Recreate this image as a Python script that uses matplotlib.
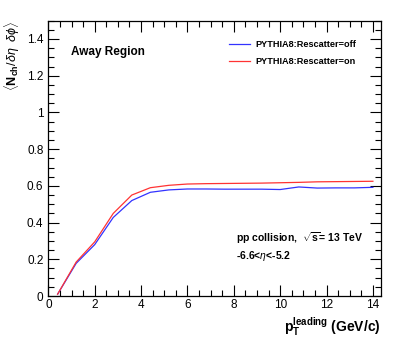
import matplotlib
matplotlib.use("Agg")
import matplotlib.pyplot as plt
from matplotlib.ticker import MultipleLocator, FixedLocator, FixedFormatter

plt.rcParams["font.family"] = ["Liberation Sans", "DejaVu Sans"]
plt.rcParams["mathtext.fontset"] = "custom"
plt.rcParams["mathtext.rm"] = "Liberation Sans"
plt.rcParams["mathtext.it"] = "Liberation Sans:italic"
plt.rcParams["mathtext.bf"] = "Liberation Sans:bold"

# leading pT bin centres (GeV/c)
pt = [0.4, 1.2, 2.0, 2.8, 3.6, 4.4, 5.2, 6.0, 6.8, 7.6, 8.4, 9.2, 10.0, 10.8, 11.6, 12.4, 13.2, 14.0]
rescatter_off = [0.01, 0.178, 0.28, 0.428, 0.52, 0.565, 0.578, 0.583, 0.583, 0.582,
                 0.582, 0.582, 0.580, 0.594, 0.588, 0.589, 0.589, 0.592]
rescatter_on = [0.01, 0.185, 0.295, 0.45, 0.55, 0.59, 0.603, 0.61, 0.612, 0.613,
                0.614, 0.615, 0.617, 0.619, 0.622, 0.623, 0.624, 0.625]

xticks = [0, 2, 4, 6, 8, 10, 12, 14]
yticks = [0, 0.2, 0.4, 0.6, 0.8, 1.0, 1.2, 1.4]
ytick_labels = ["0", "0.2", "0.4", "0.6", "0.8", "1", "1.2", "1.4"]

fig = plt.figure(figsize=(4.15, 3.44), dpi=100)
ax = fig.add_axes([0.1165, 0.1395, 0.8005, 0.8005])

ax.plot(pt, rescatter_off, color="#3333ff", lw=0.9, label="PYTHIA8:Rescatter=off")
ax.plot(pt, rescatter_on, color="#ff3333", lw=0.9, label="PYTHIA8:Rescatter=on")

ax.set_xlim(0, 14.33)
ax.set_ylim(0, 1.5)
ax.xaxis.set_major_locator(FixedLocator(xticks))
ax.xaxis.set_minor_locator(MultipleLocator(0.5))
ax.yaxis.set_major_locator(FixedLocator(yticks))
ax.yaxis.set_major_formatter(FixedFormatter(ytick_labels))
ax.yaxis.set_minor_locator(MultipleLocator(0.05))
ax.tick_params(which="both", direction="in", top=True, right=True, labelsize=8.5, width=0.8)
ax.tick_params(which="major", length=8)
ax.tick_params(which="minor", length=4)
ax.tick_params(axis="x", pad=2)
for s in ax.spines.values():
    s.set_linewidth(0.9)

ax.set_xlabel(r"$\mathbf{p_{T}^{leading}}$ (GeV/c)", fontsize=10, fontweight="bold",
              loc="right", labelpad=4)
# y title placed by hand, ROOT style at the top left
fig.text(12 / 415, 1 - 21 / 344, r"$\langle\mathbf{N_{ch}}/\delta\eta\ \ \delta\phi\rangle$",
         rotation=90, ha="center", va="top", fontsize=9)

ax.text(0.067, 0.875, "Away Region", transform=ax.transAxes, fontsize=8.5,
        fontweight="bold")
ax.legend(loc="upper left", bbox_to_anchor=(0.52, 0.958), frameon=False,
          handlelength=2.3, handletextpad=0.55, labelspacing=0.85,
          prop={"weight": "bold", "size": 6.6})
ax.text(0.565, 0.195, r"pp collision,  $\sqrt{\mathbf{s}}$= 13 TeV", transform=ax.transAxes,
        fontsize=7.5, fontweight="bold")
ax.text(0.565, 0.135, r"-6.6<$\eta$<-5.2", transform=ax.transAxes, fontsize=7.5,
        fontweight="bold")

fig.savefig("out.png", dpi=100)
